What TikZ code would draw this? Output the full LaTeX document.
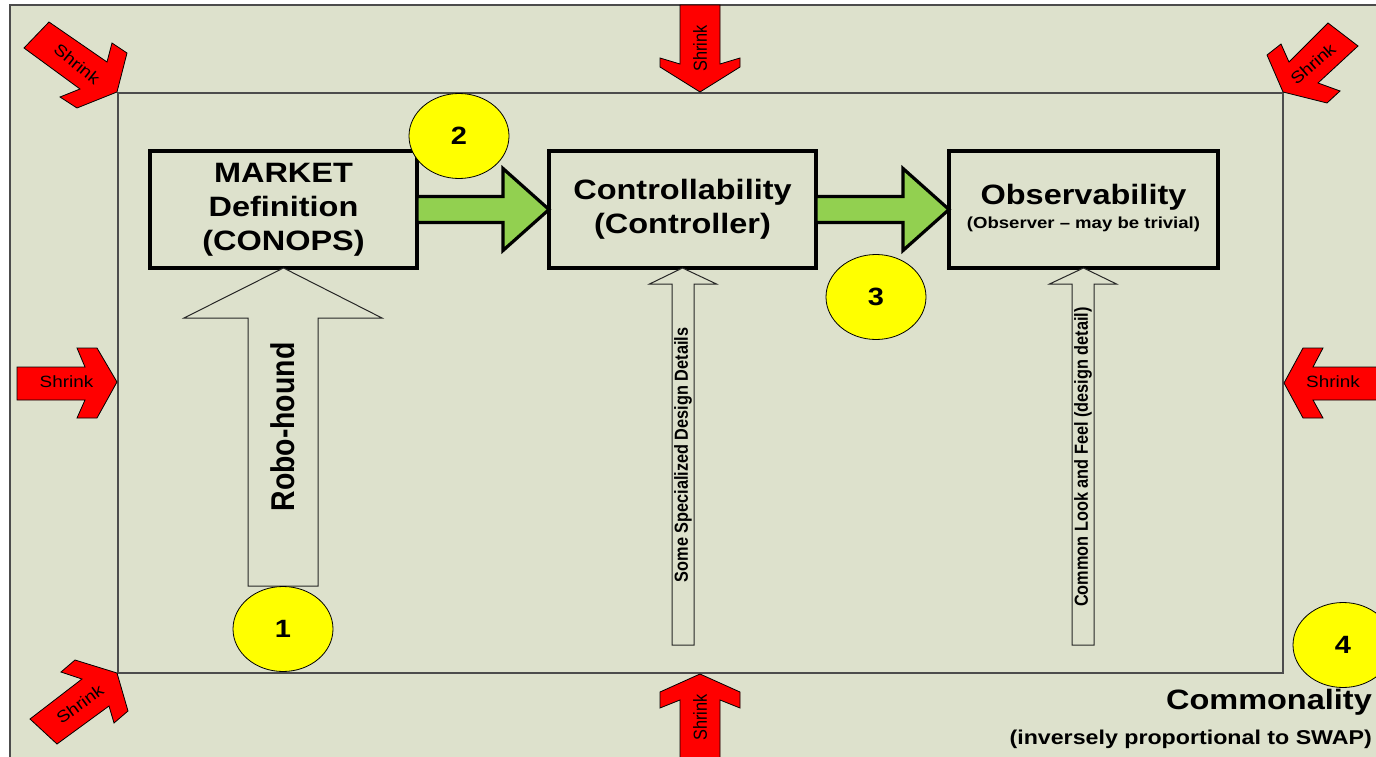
\documentclass[tikz,border=0pt]{standalone}
\usepackage{fontspec}
\setmainfont{Liberation Sans}
\usepackage{graphicx}
\usetikzlibrary{calc,shapes.geometric}

\definecolor{panel}{RGB}{221,225,204}
\definecolor{leaf}{RGB}{146,208,80}
\definecolor{signal}{RGB}{255,0,0}
\definecolor{badgeyellow}{RGB}{255,255,0}

% wide lettering: stretch along the page width
\newcommand\hs[1]{\scalebox{1.16}[1]{#1}}
\newcommand\vs[1]{\scalebox{1}[1.16]{#1}}

% upward block arrow: style, tail, tip, shaft half width, head half width, head length
\newcommand\uparr[6]{%
  \draw[#1] let \p1=(#2), \p2=(#3) in
    (\x1-#4,\y1) -- (\x1-#4,\y2-#6) -- (\x1-#5,\y2-#6) -- (\x2,\y2)
    -- (\x1+#5,\y2-#6) -- (\x1+#4,\y2-#6) -- (\x1+#4,\y1) -- cycle;}
% rightward block arrow: style, tail, tip, shaft half width, head half width, head length
\newcommand\rtarr[6]{%
  \draw[#1] let \p1=(#2), \p2=(#3) in
    (\x1,\y2+#4) -- (\x2-#6,\y2+#4) -- (\x2-#6,\y2+#5) -- (\x2,\y2)
    -- (\x2-#6,\y2-#5) -- (\x2-#6,\y2-#4) -- (\x1,\y2-#4) -- cycle;}

\begin{document}
\begin{tikzpicture}[x=1pt,y=-1pt,
  framing/.style={draw=black!70, line width=1.3pt},
  stagebox/.style={draw=black, line width=4pt, minimum height=117pt,
    inner sep=0pt, outer sep=0pt, align=center,
    font=\fontsize{28}{34}\selectfont\bfseries},
  greenarr/.style={fill=leaf, draw=black, line width=3.2pt, line join=miter},
  hollow/.style={fill=panel, draw=black!85, line width=1pt, line join=miter},
  shrinkarr/.style={fill=signal, draw=black, line width=0.8pt, line join=miter},
  shrinktxt/.style={inner sep=0pt, font=\fontsize{16.3}{20}\selectfont},
  badge/.style={ellipse, fill=badgeyellow, draw=black, line width=0.8pt,
    minimum width=100pt, minimum height=85pt, inner sep=0pt,
    font=\fontsize{25}{30}\selectfont\bfseries},
  slimtxt/.style={inner sep=0pt, rotate=90, font=\fontsize{16.3}{20}\selectfont\bfseries}]

\useasboundingbox (0,0) rectangle (1376,757);
\clip (0,0) rectangle (1376,757);
\fill[white] (0,0) rectangle (1376,757);

% outer panel and inner boundary
\draw[framing, fill=panel] (10,5) rectangle (1400,780);
\draw[framing] (118,93) rectangle (1283,673);

% stage boxes
\node[stagebox, minimum width=267pt] (mkt) at (283.5,209.5)
  {\hs{\begin{tabular}{@{}c@{}}MARKET\\Definition\\(CONOPS)\end{tabular}}};
\node[stagebox, minimum width=267pt] (ctl) at (682.5,209.5)
  {\hs{\begin{tabular}{@{}c@{}}Controllability\\(Controller)\end{tabular}}};
\node[stagebox, minimum width=269pt] (obs) at (1083.5,209.5)
  {\hs{\begin{tabular}{@{}c@{}}Observability\\[-10pt]{\fontsize{16}{19}\selectfont (Observer – may be trivial)}\end{tabular}}};

% free ends of the upward arrows
\coordinate (rh) at (283,586);
\coordinate (sd) at (683,645);
\coordinate (cl) at (1083,645);

% hollow arrows feeding the stages
\uparr{hollow}{rh}{mkt.south}{35pt}{99pt}{50pt}
\uparr{hollow}{sd}{ctl.south}{11pt}{33.5pt}{16pt}
\uparr{hollow}{cl}{obs.south}{11pt}{33.5pt}{16pt}

\node[inner sep=0pt, rotate=90, font=\fontsize{28.4}{34}\selectfont\bfseries] (rhl) at (283,427) {\vs{Robo-hound}};
\node[slimtxt] (sdl) at (683,455) {\vs{Some Specialized Design Details}};
\node[slimtxt] (cll) at (1083,457) {\vs{Common Look and Feel (design detail)}};

% flow between stages
\rtarr{greenarr}{mkt.east}{ctl.west}{13pt}{41pt}{46pt}
\rtarr{greenarr}{ctl.east}{obs.west}{13pt}{41pt}{46pt}

% shrink arrows pressing on the boundary
\draw[shrinkarr] (24,48) -- (49,22) -- (107,62) -- (112,43) -- (127,53) -- (117,92)
  -- (77,108) -- (60,97) -- (80,89) -- cycle;
\node[shrinktxt, rotate=-39] (sTL) at (77,64) {\hs{Shrink}};

\draw[shrinkarr] (680,5) -- (680,64) -- (660,58) -- (660,67) -- (700,92)
  -- (740,67) -- (740,58) -- (720,64) -- (720,5) -- cycle;
\node[shrinktxt, rotate=90] (sT) at (700,48.5) {\vs{Shrink}};

\draw[shrinkarr] (1328,23) -- (1358,46) -- (1318,83) -- (1340,91) -- (1327,103)
  -- (1283,92) -- (1267,55) -- (1281,44) -- (1289,62) -- cycle;
\node[shrinktxt, rotate=41] (sTR) at (1313,64) {\hs{Shrink}};

\draw[shrinkarr] (17,367) -- (85,367) -- (77,348) -- (97,348) -- (117,382)
  -- (97,418) -- (77,418) -- (85,400) -- (17,400) -- cycle;
\node[shrinktxt] (sL) at (66.5,382) {\hs{Shrink}};

\draw[shrinkarr] (1390,367) -- (1313,367) -- (1323,348) -- (1303,348) -- (1284,383)
  -- (1303,418) -- (1323,418) -- (1313,400) -- (1390,400) -- cycle;
\node[shrinktxt] (sR) at (1333,382) {\hs{Shrink}};

\draw[shrinkarr] (117,673) -- (128,711) -- (114,723) -- (109,706) -- (57,744)
  -- (30,719) -- (82,679) -- (61,672) -- (75,660) -- cycle;
\node[shrinktxt, rotate=36] (sBL) at (80,704) {\hs{Shrink}};

\draw[shrinkarr] (700,674) -- (740,692) -- (740,708) -- (720,700) -- (720,770)
  -- (680,770) -- (680,700) -- (660,708) -- (660,692) -- cycle;
\node[shrinktxt, rotate=90] (sB) at (700,717.5) {\vs{Shrink}};

% numbered badges
\node[badge] (b1) at (283,629) {\hs{1}};
\node[badge] (b2) at (459,136) {\hs{2}};
\node[badge] (b3) at (876,297) {\hs{3}};
\node[badge] (b4) at (1343,645) {\hs{4}};

% caption
\node[anchor=base east, inner sep=0pt, font=\fontsize{28}{34}\selectfont\bfseries] (common) at (1372,709) {\hs{Commonality}};
\node[anchor=base east, inner sep=0pt, font=\fontsize{20}{24}\selectfont\bfseries] (swap) at (1372,744) {\hs{(inversely proportional to SWAP)}};

\end{tikzpicture}
\end{document}
